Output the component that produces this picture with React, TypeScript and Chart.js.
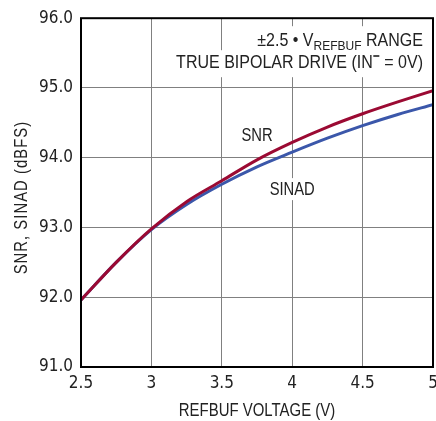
import React, { useEffect, useRef } from "react";
import { Chart, registerables } from "chart.js";

Chart.register(...registerables);

const voltage = [2.5, 2.75, 3, 3.25, 3.5, 3.75, 4, 4.25, 4.5, 4.75, 5];
const snr = [91.96, 92.5, 92.98, 93.37, 93.67, 93.97, 94.22, 94.44, 94.63, 94.8, 94.96];
const sinad = [91.96, 92.5, 92.97, 93.33, 93.62, 93.87, 94.08, 94.28, 94.46, 94.62, 94.76];
const xTicks = [2.5, 3, 3.5, 4, 4.5, 5];
const yTicks = [91, 92, 93, 94, 95, 96];

const TEXT = '"Liberation Sans", Arial, sans-serif';
const NUM = '"DejaVu Sans Condensed", "Liberation Sans", sans-serif';
const INK = "#222";

function measure(ctx: CanvasRenderingContext2D, t: string, size: number, sx = 0.82, ls = 0) {
  ctx.font = `${size}px ${TEXT}`;
  (ctx as any).letterSpacing = `${ls}px`;
  const w = ctx.measureText(t).width * sx;
  (ctx as any).letterSpacing = "0px";
  return w;
}

// draws condensed text, left edge at x, vertical middle at y
function drawText(ctx: CanvasRenderingContext2D, t: string, x: number, y: number, size: number, sx = 0.82, ls = 0) {
  ctx.save();
  ctx.font = `${size}px ${TEXT}`;
  (ctx as any).letterSpacing = `${ls}px`;
  ctx.textAlign = "left";
  ctx.textBaseline = "middle";
  ctx.translate(x, y);
  ctx.scale(sx, 1);
  ctx.fillText(t, 0, 0);
  ctx.restore();
}

const overlay = {
  id: "overlay",
  beforeDatasetsDraw(chart: any) {
    const ctx = chart.ctx as CanvasRenderingContext2D;
    const a = chart.chartArea;
    const xs = chart.scales.x;
    const ys = chart.scales.y;
    ctx.save();

    const right = a.right - 10;
    const big = 18;
    const small = 13.5;
    const AX = 0.89;
    // line 1
    const p1 = "±2.5 • V";
    const p3 = " RANGE";
    const w1 = measure(ctx, p1, big, AX);
    const w2 = measure(ctx, "REFBUF", small, AX);
    const w3 = measure(ctx, p3, big, AX);
    const tot1 = w1 + w2 + w3;
    const y1 = a.top + 23;
    // line 2
    const q1 = "TRUE BIPOLAR DRIVE (IN";
    const q3 = " = 0V)";
    const v1 = measure(ctx, q1, big, AX);
    const v3 = measure(ctx, q3, big, AX);
    const barW = 7;
    const tot2 = v1 + barW + v3;
    const y2 = a.top + 45;

    ctx.fillStyle = "#fff";
    ctx.fillRect(right - tot1 - 4, a.top + 8, tot1 + 8, 26);
    ctx.fillRect(right - tot2 - 5, y2 - 13, tot2 + 10, 27);

    ctx.fillStyle = INK;
    let x = right - tot1;
    drawText(ctx, p1, x, y1, big, AX);
    x += w1;
    drawText(ctx, "REFBUF", x, y1 + 5, small, AX);
    x += w2;
    drawText(ctx, p3, x, y1, big, AX);

    let x2 = right - tot2;
    drawText(ctx, q1, x2, y2, big, AX);
    x2 += v1;
    ctx.fillRect(x2 + 0.5, y2 - 8, barW - 1, 1.6);
    x2 += barW;
    drawText(ctx, q3, x2, y2, big, AX);

    // curve labels
    const labels: [string, number, number][] = [
      ["SNR", 3.75, 94.32],
      ["SINAD", 4.0, 93.55],
    ];
    for (const [t, vx, vy] of labels) {
      const px = xs.getPixelForValue(vx);
      const py = ys.getPixelForValue(vy);
      const w = measure(ctx, t, big);
      ctx.fillStyle = "#fff";
      ctx.fillRect(px - w / 2 - 3, py - 11, w + 6, 22);
      ctx.fillStyle = INK;
      drawText(ctx, t, px - w / 2, py + 1, big);
    }
    ctx.restore();
  },
  afterDraw(chart: any) {
    const ctx = chart.ctx as CanvasRenderingContext2D;
    const a = chart.chartArea;
    ctx.save();
    ctx.strokeStyle = "#000";
    ctx.lineWidth = 2;
    ctx.strokeRect(a.left, a.top, a.right - a.left, a.bottom - a.top);

    ctx.fillStyle = INK;
    const xt = "REFBUF VOLTAGE (V)";
    const wx = measure(ctx, xt, 18, 0.83);
    drawText(ctx, xt, (a.left + a.right) / 2 - wx / 2, 411, 18, 0.83);

    const yt = "SNR, SINAD (dBFS)";
    const wy = measure(ctx, yt, 18, 0.82, 1.3);
    ctx.translate(22, (a.top + a.bottom) / 2 + 5);
    ctx.rotate(-Math.PI / 2);
    drawText(ctx, yt, -wy / 2, 0, 18, 0.82, 1.3);
    ctx.restore();
  },
};

export default function App() {
  const ref = useRef<HTMLCanvasElement>(null);
  useEffect(() => {
    const canvas = ref.current;
    if (!canvas) return;
    const chart = new Chart(canvas, {
      type: "line",
      data: {
        labels: voltage,
        datasets: [
          {
            label: "SNR",
            data: voltage.map((v, i) => ({ x: v, y: snr[i] })),
            borderColor: "#9b0a33",
            borderWidth: 3,
            pointRadius: 0,
            cubicInterpolationMode: "monotone",
            fill: false,
          },
          {
            label: "SINAD",
            data: voltage.map((v, i) => ({ x: v, y: sinad[i] })),
            borderColor: "#3b57aa",
            borderWidth: 3,
            pointRadius: 0,
            cubicInterpolationMode: "monotone",
            fill: false,
          },
        ],
      },
      options: {
        responsive: false,
        animation: false,
        layout: { padding: { left: 0, right: 3, top: 15, bottom: 0 } },
        plugins: { legend: { display: false }, tooltip: { enabled: false } },
        scales: {
          x: {
            type: "linear",
            min: 2.5,
            max: 5,
            afterBuildTicks: (s: any) => {
              s.ticks = xTicks.map((v) => ({ value: v }));
            },
            afterFit: (s: any) => {
              s.height = 54;
              s.paddingRight = 0;
            },
            ticks: {
              color: INK,
              font: { family: NUM, size: 17 },
              padding: 6,
              maxRotation: 0,
              callback: (v: any) => String(v),
            },
            grid: { color: "#808080", lineWidth: 1, drawTicks: false },
            border: { display: false },
          },
          y: {
            type: "linear",
            min: 91,
            max: 96,
            afterBuildTicks: (s: any) => {
              s.ticks = yTicks.map((v) => ({ value: v }));
            },
            afterFit: (s: any) => {
              s.width = 81;
            },
            ticks: {
              color: INK,
              font: { family: NUM, size: 17 },
              padding: 8,
              callback: (v: any) => Number(v).toFixed(1),
            },
            grid: { color: "#808080", lineWidth: 1, drawTicks: false },
            border: { display: false },
          },
        },
      },
      plugins: [overlay],
    });
    return () => chart.destroy();
  }, []);
  return (
    <canvas
      ref={ref}
      width={436}
      height={421}
      style={{ position: "absolute", left: 0, top: 0, display: "block", background: "#fff" }}
    />
  );
}
